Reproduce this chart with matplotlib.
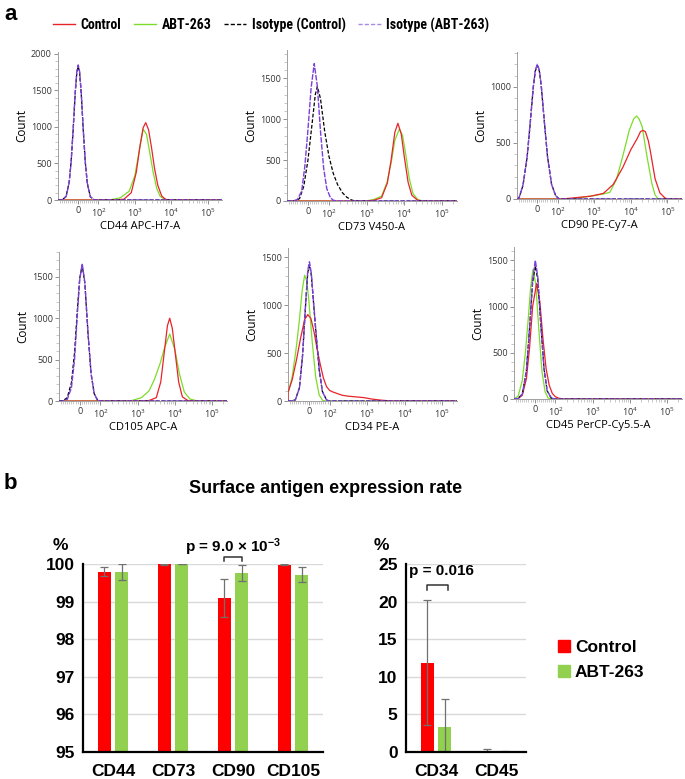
import matplotlib
matplotlib.use("Agg")
from matplotlib import pyplot as plt
from matplotlib.lines import Line2D
from matplotlib.patches import Patch
from matplotlib.ticker import FixedLocator, MultipleLocator
import numpy as np

plt.rcParams['font.family'] = ['Liberation Sans', 'DejaVu Sans']
plt.rcParams['mathtext.default'] = 'regular'

# ---------------- histogram data (x = fluorescence, y = count) ----------------
XMIN, XMAX = -100, 250000

cd44_iso_abt = [(-80, 0), (-60, 45), (-45, 230), (-35, 520), (-25, 970), (-15, 1470), (-7, 1760), (0, 1850),
                (7, 1760), (15, 1470), (25, 970), (35, 520), (45, 230), (60, 45), (80, 0)]
cd44_iso_ctrl = [(-80, 0), (-60, 50), (-45, 240), (-35, 530), (-25, 960), (-15, 1450), (-7, 1740), (0, 1830),
                 (7, 1740), (15, 1460), (25, 960), (35, 520), (45, 230), (60, 45), (80, 0)]
cd44_control = [(250, 0), (500, 10), (800, 100), (1100, 380), (1400, 750), (1700, 990), (2000, 1060),
                (2400, 960), (2900, 710), (3500, 430), (4300, 200), (5500, 55), (7000, 10), (9000, 0)]
cd44_abt = [(200, 0), (400, 30), (700, 120), (1000, 330), (1300, 650), (1700, 970), (2100, 900),
            (2600, 640), (3200, 380), (4000, 160), (5000, 50), (6500, 10), (8500, 0)]

cd73_iso_abt = [(-70, 0), (-50, 20), (-30, 120), (-15, 420), (0, 870), (15, 1380), (30, 1680), (45, 1400),
                (60, 850), (75, 400), (90, 150), (110, 40), (130, 10), (160, 0)]
cd73_iso_ctrl = [(-60, 0), (-40, 30), (-20, 180), (0, 500), (20, 950), (35, 1300), (45, 1400), (60, 1250),
                 (80, 850), (100, 550), (130, 340), (170, 200), (230, 100), (300, 45), (400, 12), (500, 0)]
cd73_control = [(1000, 0), (1600, 10), (2500, 40), (3550, 220), (4470, 500), (5620, 840), (6760, 950),
                (8300, 820), (10000, 540), (12600, 230), (15850, 70), (22400, 10), (31600, 0)]
cd73_abt = [(900, 0), (1500, 15), (2500, 60), (3500, 230), (4500, 470), (5600, 740), (7400, 880),
            (9000, 800), (11000, 560), (13500, 280), (17000, 90), (23000, 15), (32000, 0)]

cd90_iso_abt = [(-90, 10), (-70, 130), (-50, 380), (-35, 680), (-20, 1000), (-10, 1150), (0, 1200),
                (10, 1150), (20, 1000), (35, 680), (50, 380), (70, 130), (90, 30), (110, 0)]
cd90_iso_ctrl = [(-90, 10), (-70, 125), (-50, 375), (-35, 675), (-20, 990), (-10, 1140), (0, 1190),
                 (10, 1140), (20, 990), (35, 680), (50, 380), (70, 130), (90, 30), (110, 0)]
cd90_control = [(120, 0), (191, 5), (790, 25), (1780, 50), (3300, 130), (6000, 280), (10000, 440),
                (15000, 540), (18300, 600), (21500, 612), (25000, 600), (30000, 520), (34000, 430),
                (46000, 180), (62000, 55), (85000, 10), (100000, 0)]
cd90_abt = [(150, 0), (288, 5), (970, 30), (1780, 45), (2670, 60), (4000, 170), (6000, 380), (9100, 615),
            (12000, 715), (14400, 740), (17000, 710), (20400, 645), (27600, 380), (37400, 140), (45500, 40),
            (55200, 0)]

cd105_iso_abt = [(-80, 0), (-60, 20), (-40, 160), (-25, 500), (-10, 1100), (0, 1460), (12, 1660),
                 (25, 1430), (40, 830), (55, 330), (70, 90), (85, 15), (100, 0)]
cd105_iso_ctrl = [(-80, 5), (-60, 40), (-40, 220), (-25, 580), (-10, 1150), (0, 1480), (12, 1640),
                  (25, 1420), (40, 820), (55, 330), (70, 90), (85, 15), (100, 0)]
cd105_control = [(1000, 0), (2000, 5), (3160, 40), (4170, 230), (5250, 610), (6300, 910), (7250, 1000),
                 (8500, 880), (10000, 610), (12600, 230), (15850, 50), (22400, 5), (31600, 0)]
cd105_abt = [(630, 0), (1260, 40), (2000, 120), (2820, 260), (3980, 450), (5250, 640), (7250, 810),
             (10000, 620), (13200, 330), (17800, 110), (25100, 25), (39800, 0)]

cd34_iso_abt = [(-85, 0), (-65, 10), (-45, 135), (-30, 470), (-15, 1030), (-5, 1360), (3, 1450),
                (12, 1330), (22, 1050), (35, 700), (50, 330), (65, 100), (85, 10), (100, 0)]
cd34_iso_ctrl = [(-85, 0), (-65, 12), (-45, 140), (-30, 480), (-15, 1020), (-5, 1340), (3, 1420),
                 (12, 1310), (22, 1040), (35, 690), (50, 320), (65, 100), (85, 10), (100, 0)]
cd34_control = [(-100, 90), (-80, 220), (-60, 420), (-40, 650), (-20, 850), (-5, 900), (10, 860),
                (25, 720), (40, 540), (55, 380), (70, 240), (85, 150), (100, 110), (120, 95), (215, 60),
                (316, 50), (830, 35), (1350, 20), (2200, 10), (4300, 0)]
cd34_abt = [(-100, 80), (-80, 250), (-60, 560), (-45, 850), (-32, 1150), (-20, 1310), (-10, 1250),
            (0, 1050), (17, 600), (33, 250), (50, 60), (67, 5), (85, 0)]

cd45_iso_abt = [(-80, 5), (-60, 50), (-40, 300), (-25, 750), (-10, 1290), (3, 1500), (15, 1320),
                (30, 800), (45, 330), (60, 90), (80, 10), (100, 0)]
cd45_iso_ctrl = [(-80, 5), (-60, 55), (-40, 310), (-25, 760), (-10, 1260), (3, 1440), (15, 1290),
                 (30, 790), (45, 330), (60, 90), (80, 10), (100, 0)]
cd45_control = [(-80, 5), (-60, 40), (-40, 220), (-25, 550), (-10, 1000), (9, 1250), (25, 1050),
                (40, 650), (55, 330), (70, 150), (85, 60), (100, 25), (120, 10), (160, 0)]
cd45_abt = [(-80, 30), (-60, 200), (-45, 500), (-30, 900), (-20, 1200), (-9, 1400), (5, 1250),
            (20, 750), (35, 300), (50, 80), (65, 10), (85, 0)]

hist_labels = ["CD44 APC-H7-A", "CD73 V450-A", "CD90 PE-Cy7-A",
               "CD105 APC-A", "CD34 PE-A", "CD45 PerCP-Cy5.5-A"]
hist_ytop = [2027, 1846, 1310, 1800, 1594, 1645]
hist_series = [
    (cd44_control, cd44_abt, cd44_iso_ctrl, cd44_iso_abt),
    (cd73_control, cd73_abt, cd73_iso_ctrl, cd73_iso_abt),
    (cd90_control, cd90_abt, cd90_iso_ctrl, cd90_iso_abt),
    (cd105_control, cd105_abt, cd105_iso_ctrl, cd105_iso_abt),
    (cd34_control, cd34_abt, cd34_iso_ctrl, cd34_iso_abt),
    (cd45_control, cd45_abt, cd45_iso_ctrl, cd45_iso_abt),
]
legend_names = ["Control", "ABT-263", "Isotype (Control)", "Isotype (ABT-263)"]

# ---------------- bar chart data ----------------
cats_left = ["CD44", "CD73", "CD90", "CD105"]
ctrl_left = [99.79, 99.99, 99.10, 99.98]
ctrl_left_err = [0.12, 0.01, 0.50, 0.01]
abt_left = [99.79, 100.0, 99.76, 99.71]
abt_left_err = [0.21, 0.0, 0.22, 0.20]

cats_right = ["CD34", "CD45"]
ctrl_right = [11.9, 0.15]
ctrl_right_err = [8.3, 0.3]
abt_right = [3.3, 0.04]
abt_right_err = [3.8, 0.06]

RED = "#e8232a"
GREEN = "#7ddc2a"
PURPLE = "#7a3fdc"
BAR_RED = "#ff0000"
BAR_GREEN = "#92d050"

W, H = 685, 779
fig = plt.figure(figsize=(W / 100, H / 100), dpi=100)


def px_axes(l, t, r, b):
    return fig.add_axes([l / W, 1 - b / H, (r - l) / W, (b - t) / H])


styles = [
    dict(color=RED, lw=0.9, zorder=3),
    dict(color=GREEN, lw=0.9, zorder=2),
    dict(color="black", lw=0.9, ls=(0, (3, 1.5)), zorder=4),
    dict(color=PURPLE, lw=1.0, ls=(0, (4, 1)), zorder=5),
]

hist_boxes = [(58, 52, 222, 200), (287, 50, 457, 201), (517, 52, 682, 199),
              (59, 252, 227, 401), (288, 248, 457, 401), (514, 247, 682, 399)]

hfont = ['Open Sans', 'DejaVu Sans']
minor_x = list(range(-90, 100, 10)) + [m * 10 ** d for d in (2, 3, 4) for m in range(2, 10)] + [200000]

for box, series, ytop, lab in zip(hist_boxes, hist_series, hist_ytop, hist_labels):
    ax = px_axes(*box)
    ax.set_xscale('symlog', linthresh=100, linscale=0.5)
    for pts, st in zip((series[1], series[0], series[2], series[3]), (styles[1], styles[0], styles[2], styles[3])):
        xs = [XMIN] + [p[0] for p in pts] + [XMAX]
        ys = [0] + [p[1] for p in pts] + [0]
        ax.plot(xs, ys, **st)
    ax.set_xlim(XMIN, XMAX)
    ax.set_ylim(0, ytop)
    ax.set_xticks([0, 100, 1000, 10000, 100000])
    ax.set_xticklabels(['0', '$10^2$', '$10^3$', '$10^4$', '$10^5$'])
    ax.xaxis.set_minor_locator(FixedLocator(minor_x))
    ax.yaxis.set_major_locator(MultipleLocator(500))
    ax.yaxis.set_minor_locator(MultipleLocator(100))
    for s in ('top', 'right'):
        ax.spines[s].set_visible(False)
    for s in ('left', 'bottom'):
        ax.spines[s].set_color('#a0a0a0')
        ax.spines[s].set_linewidth(0.7)
    ax.tick_params(which='major', length=3, width=0.6, color='#808080', labelsize=6.5, pad=1.5,
                   labelcolor='#333333')
    ax.tick_params(which='minor', length=2, width=0.5, color='#b0b0b0')
    for t in ax.get_xticklabels() + ax.get_yticklabels():
        t.set_family(hfont)
    ax.set_xlabel(lab, fontsize=8, family=hfont, labelpad=2)
    ax.set_ylabel("Count", fontsize=8.5, family=hfont, labelpad=2)

# legend for panel a
leg_handles = [Line2D([], [], color=RED, lw=1.0),
               Line2D([], [], color=GREEN, lw=1.0),
               Line2D([], [], color='black', lw=1.0, ls=(0, (3, 1.5))),
               Line2D([], [], color='#a58be6', lw=1.0, ls=(0, (3, 1.5)))]
fig.legend(leg_handles, legend_names, loc='center', bbox_to_anchor=(271 / W, 1 - 25 / H), ncol=4,
           frameon=False,
           prop={'family': ['Roboto Condensed', 'DejaVu Sans Condensed', 'Liberation Sans Narrow',
                            'Liberation Sans'], 'weight': 'bold', 'size': 10},
           handlelength=1.6, columnspacing=0.9, handletextpad=0.4)

fig.text(4 / W, 1 - 14 / H, "a", fontsize=16, fontweight='bold', va='center', ha='left')
fig.text(4 / W, 1 - 483 / H, "b", fontsize=16, fontweight='bold', va='center', ha='left')
fig.text(326 / W, 1 - 489 / H, "Surface antigen expression rate", fontsize=13, fontweight='bold',
         ha='center', va='center')

# ---------------- bar charts ----------------
bw = 0.22
off = 0.145


def bar_axes(ax, cats, ctrl, ctrl_err, abt, abt_err, ylo, yhi, step):
    x = np.arange(len(cats))
    ax.bar(x - off, ctrl, bw, color=BAR_RED, zorder=2, bottom=0)
    ax.bar(x + off, abt, bw, color=BAR_GREEN, zorder=2, bottom=0)
    ax.errorbar(x - off, ctrl, yerr=ctrl_err, fmt='none', ecolor='#707070', elinewidth=0.9, capsize=3,
                capthick=0.9, zorder=3)
    ax.errorbar(x + off, abt, yerr=abt_err, fmt='none', ecolor='#707070', elinewidth=0.9, capsize=3,
                capthick=0.9, zorder=3)
    ax.set_xlim(-0.5, len(cats) - 0.5)
    ax.set_ylim(ylo, yhi)
    ax.set_yticks(np.arange(ylo, yhi + step / 2, step))
    ax.set_xticks(x)
    ax.set_xticklabels(cats)
    ax.grid(axis='y', color='#d9d9d9', lw=1.0, zorder=0)
    ax.set_axisbelow(True)
    for s in ('top', 'right'):
        ax.spines[s].set_visible(False)
    for s in ('left', 'bottom'):
        ax.spines[s].set_linewidth(1.6)
        ax.spines[s].set_zorder(4)
    ax.tick_params(length=0, labelsize=12.5, pad=6)
    for t in ax.get_xticklabels() + ax.get_yticklabels():
        t.set_fontweight('bold')
    ax.tick_params(axis='x', pad=9)
    return x


axL = px_axes(83, 564, 323, 752)
xL = bar_axes(axL, cats_left, ctrl_left, ctrl_left_err, abt_left, abt_left_err, 95, 100, 1)
axR = px_axes(406, 564, 526, 752)
xR = bar_axes(axR, cats_right, ctrl_right, ctrl_right_err, abt_right, abt_right_err, 0, 25, 5)

fig.text(60 / W, 1 - 545 / H, "%", fontsize=12.5, fontweight='bold', ha='center', va='center')
fig.text(381 / W, 1 - 545 / H, "%", fontsize=12.5, fontweight='bold', ha='center', va='center')

# significance brackets
i = cats_left.index("CD90")
axL.plot([i - off, i - off, i + off, i + off], [100.08, 100.19, 100.19, 100.08], color='#333333',
         lw=1.1, clip_on=False)
axL.text(i, 100.45, r"p = 9.0 × 10$^{-3}$", fontsize=11, fontweight='bold', ha='center', va='center',
         clip_on=False)
j = cats_right.index("CD34")
axR.plot([j - off, j - off, j + off + 0.06, j + off + 0.06], [21.5, 22.2, 22.2, 21.5], color='#333333',
         lw=1.1, clip_on=False)
axR.text(-0.45, 24.1, "p = 0.016", fontsize=11, fontweight='bold', ha='left', va='center')

fig.legend([Patch(color=BAR_RED), Patch(color=BAR_GREEN)], ["Control", "ABT-263"], loc='center left',
           bbox_to_anchor=(542 / W, 1 - 660 / H), frameon=False, handlelength=0.7, handleheight=0.7,
           handletextpad=0.3, labelspacing=0.6, prop={'weight': 'bold', 'size': 12.5})

fig.savefig("out.png", dpi=100)
